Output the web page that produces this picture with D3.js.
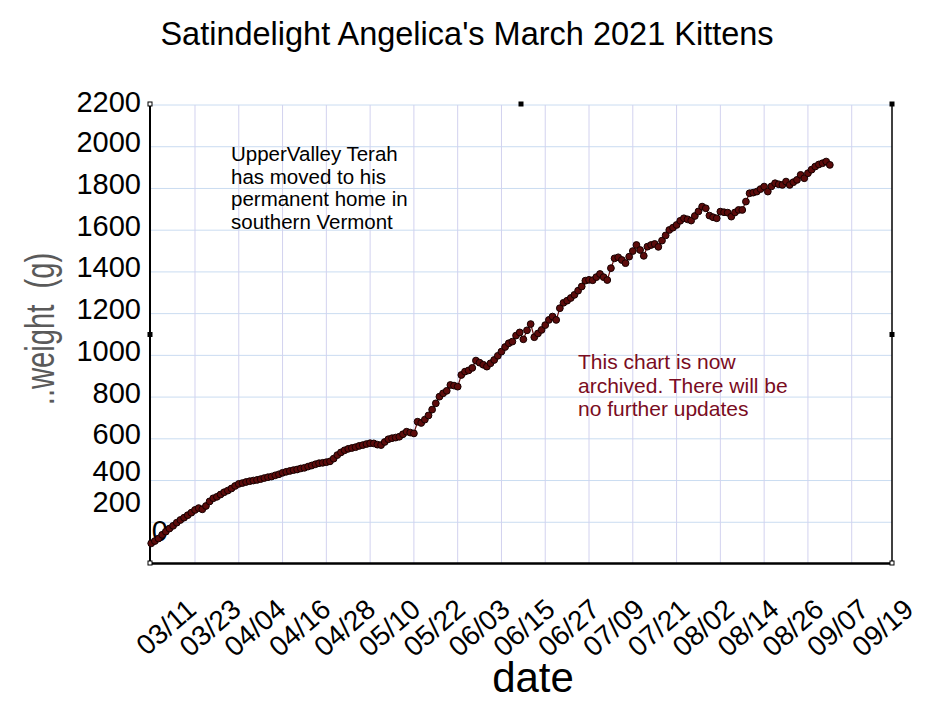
<!DOCTYPE html>
<html>
<head>
<meta charset="utf-8">
<script src="https://cdn.jsdelivr.net/npm/d3@7"></script>
<style>
  body { margin: 0; background: #ffffff; }
  text { font-family: "Liberation Sans", Arial, sans-serif; }
</style>
</head>
<body>
<div id="chart"></div>
<script>
// Data: one weigh-in per day starting 02/27
var startDate = "2021-02-27";
var weights = [
  99, 110, 122, 140, 155, 170, 183, 198, 211, 222,
  234, 246, 259, 268, 262, 278, 300, 315, 322, 333,
  344, 352, 362, 374, 384, 388, 393, 397, 400, 403,
  407, 412, 416, 419, 425, 430, 437, 442, 446, 450,
  453, 458, 461, 467, 472, 478, 483, 485, 488, 492,
  505, 522, 535, 545, 552, 556, 560, 566, 570, 575,
  579, 578, 572, 570, 585, 598, 603, 606, 610, 622,
  634, 630, 626, 682, 676, 692, 712, 740, 770, 802,
  818, 830, 858, 855, 850, 906, 922, 928, 940, 975,
  965, 955, 946, 962, 978, 998, 1018, 1040, 1058, 1066,
  1095, 1110, 1077, 1120, 1150, 1087, 1105, 1122, 1145, 1170,
  1186, 1170, 1226, 1252, 1262, 1275, 1290, 1310, 1330, 1358,
  1362, 1360, 1375, 1390, 1375, 1361, 1418, 1465, 1470, 1457,
  1442, 1473, 1500, 1529, 1505, 1477, 1521, 1529, 1534, 1520,
  1550, 1575, 1601, 1612, 1625, 1645, 1657, 1652, 1646, 1668,
  1690, 1713, 1705, 1670, 1662, 1657, 1689, 1686, 1684, 1665,
  1685, 1697, 1697, 1737, 1777, 1780, 1785, 1797, 1809, 1785,
  1810, 1825, 1820, 1817, 1833, 1817, 1830, 1841, 1865, 1849,
  1873, 1890, 1905, 1915, 1921, 1929, 1913
];

// Tick labels
var xTickLabels = ["03/11", "03/23", "04/04", "04/16", "04/28", "05/10", "05/22", "06/03", "06/15",
                   "06/27", "07/09", "07/21", "08/02", "08/14", "08/26", "09/07", "09/19"];
var yTickValues = [0, 200, 400, 600, 800, 1000, 1200, 1400, 1600, 1800, 2000, 2200];

var titleText = "Satindelight Angelica's March 2021 Kittens";
var noteLeft = ["UpperValley Terah", "has moved to his", "permanent home in", "southern Vermont"];
var noteRight = ["This chart is now", "archived. There will be", "no further updates"];

// Chart dimensions
var svgWidth = 933;
var svgHeight = 720;
var plot = { left: 150, right: 892, top: 105, bottom: 564 };

var svg = d3.select("#chart")
  .append("svg")
  .attr("width", svgWidth)
  .attr("height", svgHeight);

var parseDate = d3.timeParse("%Y-%m-%d");
var parseTick = d3.timeParse("%Y/%m/%d");
var day0 = parseDate(startDate);

var series = weights.map(function(w, i) {
  return { date: d3.timeDay.offset(day0, i), weight: w };
});

// Scales
var xScale = d3.scaleTime()
  .domain([new Date(2021, 1, 26, 16), new Date(2021, 8, 18, 1)])
  .range([plot.left, plot.right]);

var yScale = d3.scaleLinear()
  .domain([0, 2200])
  .range([plot.bottom, plot.top]);

var tickDates = xTickLabels.map(function(t) { return parseTick("2021/" + t); });

// Gridlines
svg.append("g")
  .selectAll("line")
  .data(yTickValues.filter(function(v) { return v > 0; }))
  .enter()
  .append("line")
  .attr("x1", plot.left)
  .attr("x2", plot.right)
  .attr("y1", function(d) { return yScale(d); })
  .attr("y2", function(d) { return yScale(d); })
  .attr("stroke", "#cadcf1")
  .attr("stroke-width", 1);

svg.append("g")
  .selectAll("line")
  .data(tickDates.filter(function(d) { return xScale(d) < plot.right; }))
  .enter()
  .append("line")
  .attr("x1", function(d) { return xScale(d); })
  .attr("x2", function(d) { return xScale(d); })
  .attr("y1", plot.top)
  .attr("y2", plot.bottom)
  .attr("stroke", "#d2d2ef")
  .attr("stroke-width", 1);

// Axis lines and right border
svg.append("line")
  .attr("x1", plot.left).attr("x2", plot.left)
  .attr("y1", plot.top - 1).attr("y2", plot.bottom)
  .attr("stroke", "#000").attr("stroke-width", 2);

svg.append("line")
  .attr("x1", plot.left).attr("x2", plot.right)
  .attr("y1", plot.bottom - 0.5).attr("y2", plot.bottom - 0.5)
  .attr("stroke", "#000").attr("stroke-width", 2.5);

svg.append("line")
  .attr("x1", plot.right).attr("x2", plot.right)
  .attr("y1", plot.top - 1).attr("y2", plot.bottom)
  .attr("stroke", "#000").attr("stroke-width", 1.5);

// Selection handles around the plot
var midX = (plot.left + plot.right) / 2;
var midY = (plot.top + plot.bottom) / 2;
var handles = [
  { x: plot.left, y: plot.top - 1, fill: "#fff" },
  { x: midX, y: plot.top - 1, fill: "#000" },
  { x: plot.right, y: plot.top - 1, fill: "#000" },
  { x: plot.left, y: midY, fill: "#000" },
  { x: plot.right, y: midY, fill: "#000" },
  { x: plot.left, y: plot.bottom - 1, fill: "#fff" },
  { x: plot.right, y: plot.bottom - 1, fill: "#fff" }
];
svg.append("g")
  .selectAll("rect")
  .data(handles)
  .enter()
  .append("rect")
  .attr("x", function(d) { return d.x - 2; })
  .attr("y", function(d) { return d.y - 2; })
  .attr("width", 4)
  .attr("height", 4)
  .attr("fill", function(d) { return d.fill; })
  .attr("stroke", "#000")
  .attr("stroke-width", 1);

// Y tick labels (the lower ones sit higher than their gridlines, as in the original)
var labelShift = function(v) {
  if (v === 0) return -33;
  if (v === 200) return -21;
  if (v === 400) return -10;
  if (v === 2200) return -3;
  return -5;
};

svg.append("g")
  .selectAll("text")
  .data(yTickValues)
  .enter()
  .append("text")
  .attr("x", function(d) { return d === 0 ? 168 : 141; })
  .attr("y", function(d) { return yScale(d) + labelShift(d); })
  .attr("dy", "0.36em")
  .attr("text-anchor", "end")
  .attr("font-size", "29px")
  .attr("fill", "#000")
  .text(function(d) { return d; });

// X tick labels, rotated
svg.append("g")
  .selectAll("text")
  .data(tickDates)
  .enter()
  .append("text")
  .attr("transform", function(d, i) {
    return "translate(" + (xScale(d) + 3 + i * 1.05) + "," + (plot.bottom + 48) + ") rotate(-41)";
  })
  .attr("text-anchor", "end")
  .attr("font-size", "28px")
  .attr("fill", "#000")
  .text(function(d, i) { return xTickLabels[i]; });

// Weight line and markers
var line = d3.line()
  .x(function(d) { return xScale(d.date); })
  .y(function(d) { return yScale(d.weight); });

svg.append("path")
  .datum(series)
  .attr("d", line)
  .attr("fill", "none")
  .attr("stroke", "#6a0d0d")
  .attr("stroke-width", 1.2);

svg.append("g")
  .selectAll("circle")
  .data(series)
  .enter()
  .append("circle")
  .attr("cx", function(d) { return xScale(d.date); })
  .attr("cy", function(d) { return yScale(d.weight); })
  .attr("r", 3.4)
  .attr("fill", "#5c0b0b")
  .attr("stroke", "#160000")
  .attr("stroke-width", 1);

// Notes
svg.append("text")
  .attr("x", 231)
  .attr("y", 161)
  .attr("font-size", "20.5px")
  .attr("fill", "#000")
  .selectAll("tspan")
  .data(noteLeft)
  .enter()
  .append("tspan")
  .attr("x", 231)
  .attr("dy", function(d, i) { return i === 0 ? 0 : 22.5; })
  .text(function(d) { return d; });

svg.append("text")
  .attr("x", 578)
  .attr("y", 369)
  .attr("font-size", "21px")
  .attr("fill", "#7a0c22")
  .selectAll("tspan")
  .data(noteRight)
  .enter()
  .append("tspan")
  .attr("x", 578)
  .attr("dy", function(d, i) { return i === 0 ? 0 : 23.5; })
  .text(function(d) { return d; });

// Title and axis labels
svg.append("text")
  .attr("x", 467)
  .attr("y", 45)
  .attr("text-anchor", "middle")
  .attr("font-size", "32.5px")
  .attr("fill", "#000")
  .text(titleText);

// the y label in the original is tall but squeezed along its length
svg.append("text")
  .attr("transform", "translate(54,329) rotate(-90) scale(0.73,1)")
  .attr("text-anchor", "middle")
  .attr("font-size", "40px")
  .attr("fill", "#5a5a5a")
  .attr("xml:space", "preserve")
  .style("white-space", "pre")
  .text("..weight  (g)");

svg.append("text")
  .attr("x", 533)
  .attr("y", 692)
  .attr("text-anchor", "middle")
  .attr("font-size", "42px")
  .attr("fill", "#000")
  .text("date");
</script>
</body>
</html>
